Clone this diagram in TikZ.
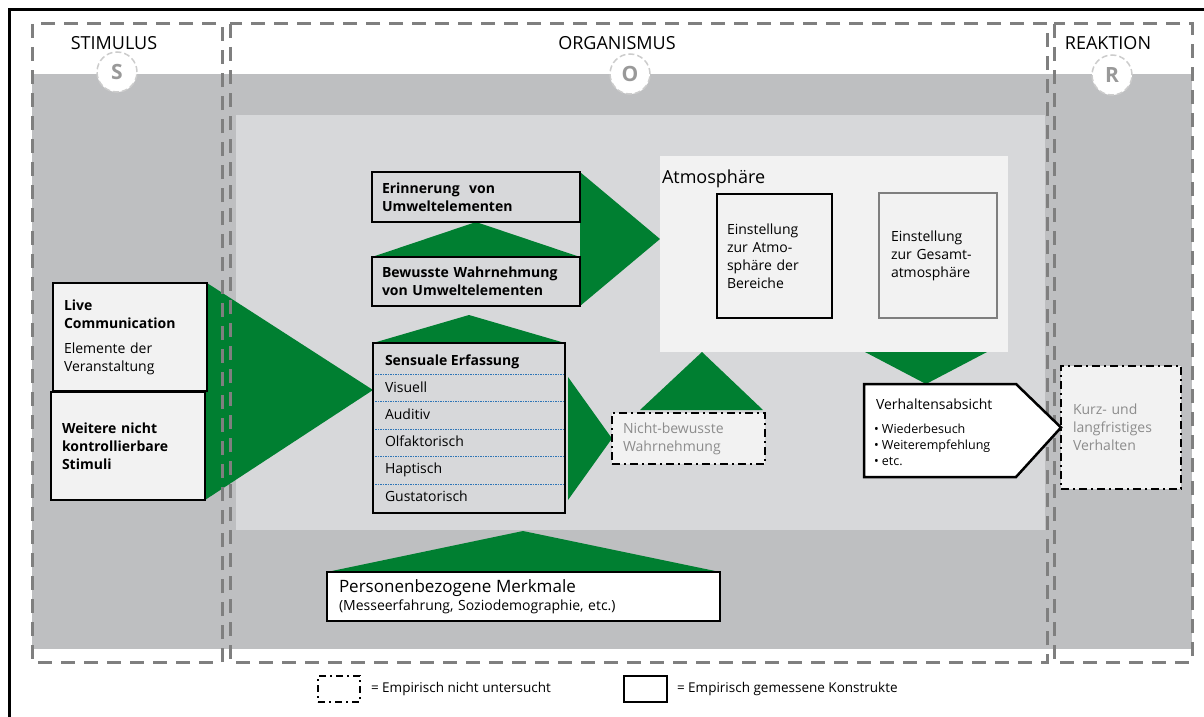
\documentclass[tikz,border=0pt]{standalone}
\usepackage{fontspec}
\setmainfont{Open Sans}
\usetikzlibrary{positioning}
\pgfdeclarelayer{bands}
\pgfdeclarelayer{arrows}
\pgfsetlayers{bands,arrows,main}

\definecolor{bandgray}{HTML}{BEBFC1}
\definecolor{innergray}{HTML}{D7D8DA}
\definecolor{paper}{HTML}{F2F2F2}
\definecolor{framegray}{HTML}{7F7F7F}
\definecolor{arrowgreen}{HTML}{007F31}
\definecolor{textgray}{HTML}{8C8C8C}
\definecolor{rowblue}{HTML}{2E75B6}

\tikzset{
every node/.style={font=\fontsize{14}{18}\selectfont, inner sep=0pt, outer sep=0pt}, % plain text everywhere
measured/.style={draw=black, line width=2.5pt, fill=paper, anchor=north west, align=left, inner xsep=11pt}, % solid box
unmeasured/.style={measured, dash pattern=on 8pt off 4pt on 2pt off 4pt, text=textgray}, % dash-dot box
phase/.style={draw=framegray, line width=3pt, dash pattern=on 14pt off 9pt},
phasetitle/.style={font=\fontsize{18}{20}\selectfont},
letter/.style={circle, draw=gray!40, fill=white, line width=1.5pt, dash pattern=on 6pt off 3pt, minimum size=40pt, text=gray!80, font=\fontsize{21}{21}\selectfont\bfseries},
greenarrow/.style={fill=arrowgreen},
rowline/.style={draw=rowblue, line width=0.8pt, dash pattern=on 1.5pt off 1pt},
small/.style={font=\fontsize{12.5}{16}\selectfont},
}

\begin{document}
\begin{tikzpicture}[x=1pt, y=-1pt]
\useasboundingbox (0,0) rectangle (1204,717);

% background bands and phase frames
\begin{pgfonlayer}{bands}
\fill[bandgray] (32,74) rectangle (1192,649);
\fill[innergray] (236,115) rectangle (1045,530);
\end{pgfonlayer}
\draw[line width=3pt] (9.5,717) -- (9.5,9.5) -- (1204,9.5);
\draw[phase] (32,24) rectangle (222,662);
\draw[phase] (230,24) rectangle (1047,662);
\draw[phase] (1054,24) rectangle (1192,662);

\node[letter] (scircle) at (117,72) {S};
\node[letter] (ocircle) at (630,74) {O};
\node[letter] (rcircle) at (1112,75) {R};
\node[phasetitle] (stimtitle) at (114,43) {STIMULUS};
\node[phasetitle] (orgtitle) at (617,43) {ORGANISMUS};
\node[phasetitle] (reaktitle) at (1108,43) {REAKTION};

% stimulus
\node[measured, minimum width=154pt, minimum height=108pt, text width=132pt] (live) at (53,283)
    {\textbf{Live}\\\textbf{Communication}\\[7pt]Elemente der\\Veranstaltung};
\node[measured, minimum width=154pt, minimum height=108pt, text width=132pt] (weit) at (51,392)
    {\textbf{Weitere nicht}\\\textbf{kontrollierbare}\\\textbf{Stimuli}};

% organismus
\node[measured, fill=innergray, minimum width=208pt, minimum height=50pt, text width=188pt, inner xsep=10pt] (erin) at (372,172)
    {\textbf{Erinnerung~ von}\\\textbf{Umweltelementen}};
\node[measured, fill=innergray, minimum width=208pt, minimum height=49pt, text width=188pt, inner xsep=10pt] (bew) at (372,257)
    {\textbf{Bewusste Wahrnehmung}\\\textbf{von Umweltelementen}};
\node[measured, fill=innergray, minimum width=192pt, minimum height=170pt] (sens) at (373,343) {};
\node[anchor=base west, font=\fontsize{14}{18}\selectfont\bfseries] (senshead) at ([xshift=12pt,yshift=-22pt]sens.north west) {Sensuale Erfassung};
\foreach \sense [count=\i] in {Visuell, Auditiv, Olfaktorisch, Haptisch, Gustatorisch}
    \node[anchor=base west] (sense\i) at ([xshift=12pt,yshift={-22-27.2*\i}]sens.north west) {\sense};
\foreach \i in {0,...,4}
    \draw[rowline] ([xshift=2pt,yshift={-31-27.5*\i}]sens.north west) -- ([xshift=-2pt,yshift={-31-27.5*\i}]sens.north east);

\node[fill=paper, anchor=north west, minimum width=348pt, minimum height=196pt] (atmo) at (660,156) {};
\node[anchor=base west, font=\fontsize{18}{20}\selectfont] (atmolabel) at (662,183) {Atmosphäre};
\node[measured, minimum width=115pt, minimum height=124pt, text width=95pt, inner xsep=10pt] (einst) at (717,194)
    {Einstellung\\zur Atmo-\\sphäre der\\Bereiche};
\node[measured, draw=framegray, minimum width=118pt, minimum height=125pt, text width=94pt, inner xsep=12pt] (ges) at (879,193)
    {Einstellung\\zur Gesamt-\\atmosphäre};

\node[unmeasured, minimum width=153pt, minimum height=51pt, text width=131pt] (nicht) at (612,413)
    {Nicht-bewusste\\Wahrnehmung};

\node[anchor=north west, minimum width=152pt, minimum height=93pt] (verh) at (864,384) {};
\node[unmeasured, minimum width=120pt, minimum height=123pt, text width=96pt, inner xsep=12pt] (kurz) at (1061,366)
    {Kurz- und\\langfristiges\\Verhalten};
\draw[line width=2.5pt, fill=white] (verh.north west) -- (verh.north east) -- (kurz.west) -- (verh.south east) -- (verh.south west) -- cycle;
\node[anchor=base west] (verhtitle) at (876,409) {Verhaltensabsicht};
\node[small, anchor=north west, align=left] (verhlist) at (874,424)
    {\textbullet{} Wiederbesuch\\\textbullet{} Weiterempfehlung\\\textbullet{} etc.};

\node[measured, fill=white, minimum width=393pt, minimum height=49pt, text width=369pt, inner xsep=12pt] (pers) at (327,572)
    {\fontsize{17}{20}\selectfont Personenbezogene Merkmale\\\fontsize{14}{19}\selectfont (Messeerfahrung, Soziodemographie, etc.)};

% green arrows
\begin{pgfonlayer}{arrows}
\fill[greenarrow] (live.north east) -- (weit.south east) -- ([yshift=-47pt]sens.north west) -- cycle;
\fill[greenarrow] (bew.north west) -- (bew.north east) -- (erin.south) -- cycle;
\fill[greenarrow] (sens.north west) -- (sens.north east) -- ([xshift=-7pt,yshift=-9pt]bew.south) -- cycle;
\fill[greenarrow] (erin.north east) -- (bew.south east) -- ([yshift=15pt]atmo.west) -- cycle;
\fill[greenarrow] (einst.north east) -- (einst.south east) -- (ges.west) -- cycle;
\fill[greenarrow] ([xshift=-143pt]atmo.south east) -- ([xshift=-21pt]atmo.south east) -- ([xshift=62pt]verh.north west) -- cycle;
\fill[greenarrow] ([xshift=3pt,yshift=-34pt]sens.north east) -- ([xshift=3pt,yshift=13pt]sens.south east) -- (nicht.west) -- cycle;
\fill[greenarrow] ([xshift=28pt,yshift=3pt]nicht.north west) -- ([xshift=-2pt,yshift=3pt]nicht.north east) -- ([xshift=42pt]atmo.south west) -- cycle;
\fill[greenarrow] (pers.north west) -- (pers.north east) -- ([xshift=54pt,yshift=-18pt]sens.south) -- cycle;
\end{pgfonlayer}

% legend
\node[draw, line width=2pt, dash pattern=on 7pt off 4pt on 2pt off 4pt, anchor=north west, minimum width=42pt, minimum height=26pt] (legopen) at (318,676) {};
\node[anchor=west, font=\fontsize{13.5}{16}\selectfont, right=11pt of legopen] (legopentext) {= Empirisch nicht untersucht};
\node[draw, line width=2pt, anchor=north west, minimum width=43pt, minimum height=26pt] (legdone) at (624,676) {};
\node[anchor=west, font=\fontsize{13.5}{16}\selectfont, right=10pt of legdone] (legdonetext) {= Empirisch gemessene Konstrukte};
\end{tikzpicture}
\end{document}
